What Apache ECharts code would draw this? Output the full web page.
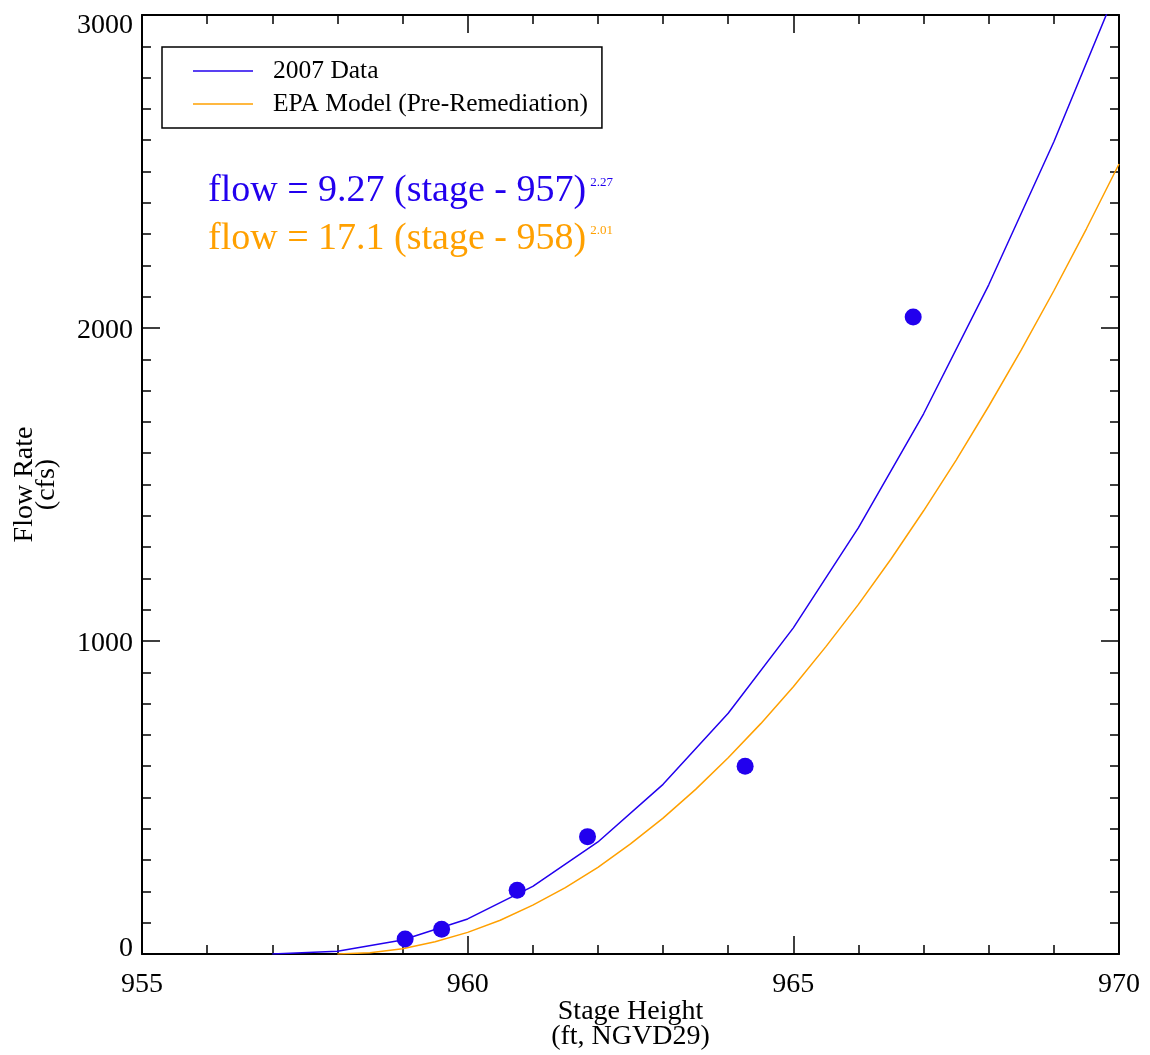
<!DOCTYPE html>
<html>
<head>
<meta charset="utf-8">
<script src="https://cdn.jsdelivr.net/npm/echarts@6/dist/echarts.min.js"></script>
<style>
html,body{margin:0;padding:0;background:#fff;}
#chart{width:1150px;height:1055px;}
</style>
</head>
<body>
<div id="chart"></div>
<script>
// Data
const seriesNames = ['2007 Data', 'EPA Model (Pre-Remediation)'];
const dataStage = [957, 958, 959, 960, 961, 962, 963, 964, 965, 966, 967, 968, 969, 970];
const dataFlow = [0, 9, 45, 112, 216, 358, 542, 769, 1042, 1362, 1726, 2138, 2595, 3099];
const epaStage = [958, 958.5, 959, 959.5, 960, 960.5, 961, 961.5, 962, 962.5, 963, 963.5, 964, 964.5, 965, 965.5, 966, 966.5, 967, 967.5, 968, 968.5, 969, 969.5, 970];
const epaFlow = [0, 4, 17, 39, 69, 108, 156, 212, 277, 352, 434, 526, 627, 736, 854, 982, 1117, 1262, 1416, 1578, 1750, 1930, 2119, 2317, 2524];
const obsStage = [959.04, 959.60, 960.76, 961.84, 964.26, 966.84];
const obsFlow = [48, 79, 204, 375, 600, 2035];
const xTicks = [955, 960, 965, 970];
const yTicks = [0, 1000, 2000, 3000];
const eqBlue = ['flow = 9.27 (stage - 957)', '2.27'];
const eqOrange = ['flow = 17.1 (stage - 958)', '2.01'];

const BLUE = '#2200EE';
const ORANGE = '#FFA000';
const FONT = 'Liberation Serif';

const zip = (a, b) => a.map((v, i) => [v, b[i]]);

const axisCommonX = {
  type: 'value', min: xTicks[0], max: xTicks[xTicks.length - 1], interval: xTicks[1] - xTicks[0],
  splitLine: { show: false },
  axisLine: { show: true, onZero: false, lineStyle: { color: '#000', width: 2 } },
  axisTick: { show: true, inside: true, length: 18, lineStyle: { color: '#000', width: 1.5 } },
  minorTick: { show: true, splitNumber: 5, length: 9, lineStyle: { color: '#000', width: 1.5 } },
  minorSplitLine: { show: false }
};
const axisCommonY = {
  type: 'value', min: yTicks[0], max: yTicks[yTicks.length - 1], interval: yTicks[1] - yTicks[0],
  splitLine: { show: false },
  axisLine: { show: true, onZero: false, lineStyle: { color: '#000', width: 2 } },
  axisTick: { show: true, inside: true, length: 18, lineStyle: { color: '#000', width: 1.5 } },
  minorTick: { show: true, splitNumber: 10, length: 9, lineStyle: { color: '#000', width: 1.5 } },
  minorSplitLine: { show: false }
};

const chart = echarts.init(document.getElementById('chart'), null, { renderer: 'canvas' });
chart.setOption({
  backgroundColor: '#fff',
  animation: false,
  grid: { left: 142, top: 15, width: 977, height: 939, containLabel: false, outerBoundsMode: 'none' },
  xAxis: [
    Object.assign({}, axisCommonX, {
      position: 'bottom',
      name: 'Stage Height\n(ft, NGVD29)', nameLocation: 'middle', nameGap: 45, nameMoveOverlap: false,
      nameTextStyle: { fontFamily: FONT, fontSize: 28, color: '#000', lineHeight: 25 },
      axisLabel: { show: true, margin: 17, fontFamily: FONT, fontSize: 28, color: '#000' }
    }),
    Object.assign({}, axisCommonX, { position: 'top', axisLabel: { show: false } })
  ],
  yAxis: [
    Object.assign({}, axisCommonY, {
      position: 'left',
      name: 'Flow Rate\n(cfs)', nameLocation: 'middle', nameGap: 84,
      nameTextStyle: { fontFamily: FONT, fontSize: 28, color: '#000', lineHeight: 22 },
      axisLabel: {
        show: true, margin: 9, fontFamily: FONT, fontSize: 28, color: '#000',
        formatter: function (v) {
          if (v === yTicks[0]) return '{b|' + v + '}';
          if (v === yTicks[yTicks.length - 1]) return '{t|' + v + '}';
          return '{n|' + v + '}';
        },
        rich: {
          n: { fontFamily: FONT, fontSize: 28, color: '#000', padding: [5, 0, 0, 0] },
          b: { fontFamily: FONT, fontSize: 28, color: '#000', padding: [0, 0, 10, 0] },
          t: { fontFamily: FONT, fontSize: 28, color: '#000', padding: [22, 0, 0, 0] }
        }
      }
    }),
    Object.assign({}, axisCommonY, { position: 'right', axisLabel: { show: false } })
  ],
  legend: {
    data: seriesNames,
    orient: 'vertical', left: 162, top: 47,
    padding: [11, 14, 11, 31],
    icon: 'rect',
    itemWidth: 60, itemHeight: 1.5, itemGap: 7,
    borderColor: '#000', borderWidth: 1.5, borderRadius: 0,
    backgroundColor: '#fff',
    selectedMode: false,
    textStyle: { fontFamily: FONT, fontSize: 25.5, color: '#000', lineHeight: 25, padding: [0, 0, 0, 15] }
  },
  graphic: [
    {
      type: 'text', x: 208, y: 191, z: 100,
      style: {
        text: '{m|' + eqBlue[0] + '}{s|' + eqBlue[1] + '}',
        verticalAlign: 'middle',
        rich: {
          m: { fontFamily: FONT, fontSize: 38, fill: BLUE, lineHeight: 40 },
          s: { fontFamily: FONT, fontSize: 13, fill: BLUE, verticalAlign: 'top', padding: [5, 0, 0, 4] }
        }
      }
    },
    {
      type: 'text', x: 208, y: 239, z: 100,
      style: {
        text: '{m|' + eqOrange[0] + '}{s|' + eqOrange[1] + '}',
        verticalAlign: 'middle',
        rich: {
          m: { fontFamily: FONT, fontSize: 38, fill: ORANGE, lineHeight: 40 },
          s: { fontFamily: FONT, fontSize: 13, fill: ORANGE, verticalAlign: 'top', padding: [5, 0, 0, 4] }
        }
      }
    }
  ],
  series: [
    {
      name: seriesNames[0], type: 'line', data: zip(dataStage, dataFlow),
      symbol: 'none', lineStyle: { color: BLUE, width: 1.5 }, itemStyle: { color: BLUE },
      clip: true, z: 3
    },
    {
      name: seriesNames[1], type: 'line', data: zip(epaStage, epaFlow),
      symbol: 'none', lineStyle: { color: ORANGE, width: 1.5 }, itemStyle: { color: ORANGE },
      clip: true, z: 2
    },
    {
      name: 'Observations', type: 'scatter', data: zip(obsStage, obsFlow),
      symbol: 'circle', symbolSize: 17, itemStyle: { color: BLUE, opacity: 1 }, z: 4
    }
  ]
});
</script>
</body>
</html>
